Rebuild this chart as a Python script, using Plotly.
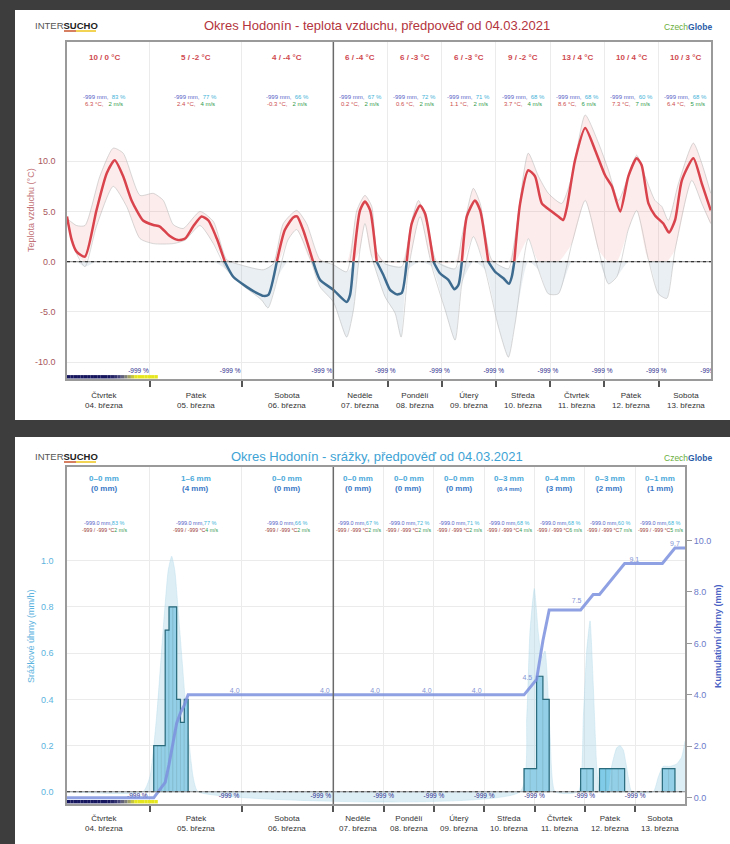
import numpy as np
import plotly.graph_objects as go

# ---------------- data ----------------
day_names = ["Čtvrtek", "Pátek", "Sobota", "Neděle", "Pondělí", "Úterý", "Středa", "Čtvrtek", "Pátek", "Sobota"]
day_dates = ["04. března", "05. března", "06. března", "07. března", "08. března",
             "09. března", "10. března", "11. března", "12. března", "13. března"]
t_max = [10, 5, 4, 6, 6, 6, 9, 13, 10, 10]
t_min = [0, -2, -4, -4, -3, -3, -2, 4, 4, 3]
t_mean = ["6.3", "2.4", "-0.3", "0.2", "0.6", "1.1", "3.7", "8.6", "7.3", "6.4"]
wind = [2, 4, 2, 2, 2, 2, 4, 6, 7, 5]
humidity = [83, 77, 66, 67, 72, 71, 68, 68, 60, 68]
prec_range = ["0–0", "1–6", "0–0", "0–0", "0–0", "0–0", "0–3", "0–4", "0–3", "0–1"]
prec_total = ["0", "4", "0", "0", "0", "0", "0.4", "3", "2", "1"]

# temperature (hours since 04.03 00:00)
temp_h = [2.3, 3.5, 4.8, 7.0, 10.0, 12.7, 14.8, 17.0, 19.2, 22.2, 24.9, 26.6, 29.2, 31.4, 33.2, 35.3,
          37.5, 39.3, 41.5, 43.6, 45.8, 49.3, 51.9, 53.7, 55.0, 57.2, 59.3, 61.5, 62.5, 64.1, 66.7,
          68.5, 72.0, 77.9, 79.4, 80.9, 83.8, 86.0, 88.3, 91.2, 94.1, 97.1, 100.1, 102.3, 104.5,
          106.7, 110.4, 112.6, 116.3, 119.2, 122.9, 125.6, 127.4, 128.9, 131.1, 134.7, 137.0, 140.6,
          143.6, 147.3, 149.8, 151.0, 152.1, 154.7, 158.3, 161.3, 164.3, 168.7, 171.6, 173.8, 175.4,
          179.0, 183.5, 187.9, 192.3, 195.3, 199.0, 202.6, 206.3, 208.5, 211.5, 214.4, 218.1, 220.6,
          223.3, 226.3, 231.4, 235.1, 239.1]
temp_c = [4.5, 2.2, 1.0, 0.5, 5.1, 8.8, 10.1, 8.5, 6.1, 4.1, 3.65, 3.5, 2.55, 2.15, 2.3, 3.5,
          4.5, 4.1, 2.3, 0.0, -1.5, -2.5, -3.1, -3.4, -3.3, 0.0, 3.15, 4.4, 4.5, 3.15, 0.0,
          -1.8, -2.8, -4.0, -3.3, 0.0, 5.1, 6.0, 5.1, 0.0, -1.3, -2.8, -3.25, -3.1, 0.0,
          3.8, 5.6, 4.8, 0.0, -1.15, -1.8, -2.75, -2.3, 0.0, 4.5, 6.1, 5.1, 0.0,
          -1.0, -1.65, -2.2, -1.5, 0.0, 5.8, 9.1, 8.5, 5.8, 5.0, 4.5, 4.15, 5.4,
          10.1, 13.3, 11.1, 8.6, 7.5, 5.0, 8.5, 10.3, 9.6, 5.8, 4.6, 3.8, 2.9,
          4.15, 8.1, 10.3, 7.8, 5.1]
band_up_h = [2.3, 4.8, 7.0, 10.9, 14.4, 17.0, 21.4, 24.9, 27.5, 30.1, 32.7, 37.1, 40.6, 44.1, 47.6,
             53.7, 56.3, 58.9, 62.4, 65.0, 68.5, 72.0, 77.9, 82.4, 86.0, 89.0, 91.2, 94.9, 102.3,
             106.7, 109.7, 113.4, 117.8, 125.9, 128.9, 134.0, 137.0, 142.1, 149.5, 152.5, 158.3,
             162.8, 167.2, 173.1, 177.6, 183.5, 189.4, 193.8, 198.2, 202.6, 206.3, 210.0, 214.4,
             217.4, 220.3, 224.8, 231.4, 235.1, 239.1]
band_up = [4.3, 3.6, 3.6, 8.5, 11.3, 10.8, 6.6, 6.8, 6.1, 3.7, 3.3, 5.0, 4.0, 0.2, -0.3,
           -0.8, -0.2, 3.8, 5.1, 3.8, 0.2, -0.3, -1.0, 5.1, 6.6, 5.5, 1.0, -0.2, -0.5,
           4.1, 6.1, 3.8, 0.0, -0.7, 2.5, 7.3, 5.8, 0.2, -0.7, 2.5, 10.8,
           8.5, 6.8, 5.8, 8.5, 14.6, 11.8, 9.1, 6.1, 8.5, 10.6, 8.5, 6.1,
           5.5, 4.1, 7.8, 11.8, 9.8, 6.8]
band_lo_h = [2.3, 4.8, 7.0, 10.0, 14.4, 17.9, 21.4, 24.9, 30.1, 33.2, 37.1, 40.6, 44.1, 47.6, 53.2,
             54.9, 57.5, 60.1, 62.4, 66.2, 68.5, 72.0, 77.9, 80.9, 83.8, 86.0, 89.0, 94.9, 99.3,
             102.0, 105.2, 110.4, 115.6, 121.5, 125.9, 128.9, 134.0, 139.2, 145.1, 149.5, 152.5,
             158.3, 162.8, 167.2, 171.6, 177.6, 183.5, 189.4, 193.8, 197.5, 202.6, 206.3, 211.5,
             215.9, 219.6, 223.3, 230.7, 235.1, 239.1]
band_lo = [4.1, 0.8, -0.5, 3.5, 7.5, 5.5, 2.3, 1.8, 1.8, 2.15, 3.6, 1.8, -0.8, -2.15, -3.8,
           -4.6, -1.5, 2.15, 3.2, 0.0, -2.5, -4.0, -7.5, -4.8, 1.2, 3.8, 0.5, -3.5, -5.1,
           -7.5, -0.8, 4.5, -0.5, -4.8, -7.8, -2.2, 2.5, -0.8, -6.5, -9.5, -6.1,
           2.3, -0.8, -3.2, -3.2, 1.8, 6.1, 1.2, -2.2, -1.5, 3.2, 5.1, 0.2,
           -3.2, -3.65, 1.2, 8.1, 5.8, 3.8]

# precipitation blocks: start hour, duration (h), rate (mm/h)
prec_start = [25, 26, 27, 28, 29, 30, 31, 32, 33, 163, 166, 169, 172, 190, 193, 199, 202, 205, 208, 229, 232]
prec_dur = [1, 1, 1, 1, 1, 1, 1, 1, 1, 3, 3, 3, 3, 3, 3, 3, 3, 3, 3, 3, 3]
prec_rate = [0.2, 0.2, 0.2, 0.7, 0.8, 0.8, 0.4, 0.3, 0.4, 0.1, 0.1, 0.5, 0.4, 0.1, 0.1, 0.1, 0.1, 0.1, 0.1, 0.1, 0.1]

# ensemble spread of precipitation intensity
ens_h = [2.3, 22.2, 24.0, 25.75, 27.5, 28.8, 29.7, 30.5, 31.85, 33.6, 35.3, 36.6,
         161.1, 164.3, 165.8, 167.9, 169.8, 171.4, 173.0, 175.4, 177.8,
         188.9, 191.3, 192.9, 194.5, 196.0, 197.7, 199.2,
         203.2, 204.8, 207.2, 208.8, 210.4, 212.7, 214.4,
         224.7, 227.1, 229.4, 232.6, 235.8, 238.2, 239.8]
ens_v = [0, 0, 0.065, 0.325, 0.71, 0.96, 1.02, 0.96, 0.69, 0.325, 0.065, 0,
         0, 0.325, 0.69, 0.88, 0.69, 0.58, 0.61, 0.25, 0,
         0, 0.325, 0.61, 0.74, 0.47, 0.11, 0,
         0, 0.11, 0.19, 0.2, 0.18, 0.065, 0,
         0, 0.065, 0.11, 0.11, 0.12, 0.15, 0.22]

cum_label_h = [46.2, 69.8, 91.9, 116.6, 140.4, 164.6, 188.1, 215.6, 235.0]
cum_label_v = [4.0, 4.0, 4.0, 4.0, 4.0, 4.5, 7.5, 9.1, 9.7]

scale_levels = [0] * 13 + [0.08, 0.18, 0.3, 0.42, 0.55, 0.7, 0.85] + [1] * 7

# ---------------- helpers ----------------
W, H = 730, 844
K1 = 54.2 / 91.7
K2 = 50.3 / 91.7
FONT = "Liberation Sans, Arial, sans-serif"


def pos(h, k):
    h = np.asarray(h, dtype=float)
    return np.where(h <= 72, h, 72 + (h - 72) * k)


def fx(x):
    return x / W


def fy(y):
    return 1 - y / H


boundaries = [24 * i for i in range(1, 10)]
noons = [12 + 24 * i for i in range(10)]

fig = go.Figure()
annotations = []
shapes = []

# white panels
shapes.append(dict(type="rect", xref="paper", yref="paper", x0=fx(15), x1=1, y0=fy(420), y1=fy(10),
                   fillcolor="white", line_width=0, layer="below"))
shapes.append(dict(type="rect", xref="paper", yref="paper", x0=fx(15), x1=1, y0=0, y1=fy(437),
                   fillcolor="white", line_width=0, layer="below"))

# ================= chart 1 : temperature =================
up = np.array(band_up)
lo = np.array(band_lo)
bx = np.concatenate([pos(band_up_h, K1), pos(band_lo_h, K1)[::-1]])
pink_y = np.concatenate([np.clip(up, 0, None), np.clip(lo, 0, None)[::-1]])
blue_y = np.concatenate([np.clip(up, None, 0), np.clip(lo, None, 0)[::-1]])
fig.add_trace(go.Scatter(x=bx, y=pink_y, fill="toself", fillcolor="rgba(235,120,120,0.14)", mode="lines",
                         line=dict(width=0, shape="spline", smoothing=0.6), hoverinfo="skip", xaxis="x", yaxis="y"))
fig.add_trace(go.Scatter(x=bx, y=blue_y, fill="toself", fillcolor="rgba(140,165,190,0.18)", mode="lines",
                         line=dict(width=0, shape="spline", smoothing=0.6), hoverinfo="skip", xaxis="x", yaxis="y"))
for hh, vv in ((band_up_h, band_up), (band_lo_h, band_lo)):
    fig.add_trace(go.Scatter(x=pos(hh, K1), y=vv, mode="lines", hoverinfo="skip",
                             line=dict(color="rgba(170,170,170,0.45)", width=1, shape="spline", smoothing=0.6),
                             xaxis="x", yaxis="y"))
red_y = [v if v >= 0 else None for v in temp_c]
blue_line_y = [v if v <= 0 else None for v in temp_c]
fig.add_trace(go.Scatter(x=pos(temp_h, K1), y=blue_line_y, mode="lines",
                         line=dict(color="#3d6b8f", width=2.5, shape="spline", smoothing=0.6), xaxis="x", yaxis="y"))
fig.add_trace(go.Scatter(x=pos(temp_h, K1), y=red_y, mode="lines",
                         line=dict(color="#d8434c", width=2.5, shape="spline", smoothing=0.6), xaxis="x", yaxis="y"))

# -999 % labels chart 1
pct1_h = [24 * (i + 1) - 3 if i < 3 else 24 * (i + 1) - 1 for i in range(10)]
fig.add_trace(go.Scatter(x=pos(pct1_h, K1), y=[-10.88] * 10, mode="text", text=["-999 %"] * 10,
                         textfont=dict(size=6.5, color="#2b2b8c", family=FONT), cliponaxis=True,
                         xaxis="x", yaxis="y"))

# colour scale squares
sq_x = 2.3 + 0.88 * (np.arange(len(scale_levels)) + 0.5)
cscale = [[0, "#16165e"], [0.3, "#45457a"], [0.6, "#8a8a7a"], [1, "#e6e61e"]]
fig.add_trace(go.Scatter(x=sq_x, y=[-11.45] * len(scale_levels), mode="markers",
                         marker=dict(symbol="square", size=3.4, color=scale_levels, colorscale=cscale,
                                     cmin=0, cmax=1, line=dict(width=0)),
                         cliponaxis=False, xaxis="x", yaxis="y"))

# ================= chart 2 : precipitation =================
fig.add_trace(go.Scatter(x=pos(ens_h, K2), y=ens_v, mode="lines", fill="tozeroy",
                         fillcolor="rgba(175,215,232,0.42)",
                         line=dict(width=0.6, color="rgba(175,215,232,0.6)", shape="spline", smoothing=0.5),
                         hoverinfo="skip", xaxis="x2", yaxis="y2"))
ps = np.array(prec_start, float)
pe = ps + np.array(prec_dur, float)
fig.add_trace(go.Bar(x=(pos(ps, K2) + pos(pe, K2)) / 2, y=prec_rate, width=pos(pe, K2) - pos(ps, K2),
                     marker=dict(color="#80cce8", line=dict(color="rgba(40,110,130,0.5)", width=0.6)),
                     xaxis="x2", yaxis="y2"))
# step outline
ox, oy = [], []
prev_end = None
for s, e, r in zip(ps, pe, prec_rate):
    if prev_end is not None and s != prev_end:
        ox += [prev_end, None]
        oy += [0, None]
    if prev_end is None or s != prev_end:
        ox.append(s)
        oy.append(0)
    ox += [s, e]
    oy += [r, r]
    prev_end = e
ox.append(prev_end)
oy.append(0)
ox_pos = [float(pos(v, K2)) if v is not None else None for v in ox]
fig.add_trace(go.Scatter(x=ox_pos, y=oy, mode="lines", line=dict(color="#2a6b7d", width=1.2),
                         hoverinfo="skip", xaxis="x2", yaxis="y2"))

# cumulative line
amounts = np.array(prec_rate) * np.array(prec_dur)
cum = np.cumsum(amounts)
cx, cy = [2.3], [0.0]
for s, e, c, a in zip(ps, pe, cum, amounts):
    if cx[-1] != s:
        cx.append(s)
        cy.append(c - a)
    cx.append(e)
    cy.append(c)
cx.append(239.8)
cy.append(cum[-1])
fig.add_trace(go.Scatter(x=pos(cx, K2), y=cy, mode="lines",
                         line=dict(color="rgba(125,145,222,0.85)", width=3),
                         xaxis="x2", yaxis="y3"))
fig.add_trace(go.Scatter(x=pos(cum_label_h, K2), y=cum_label_v, mode="text",
                         text=[f"{v:.1f}" for v in cum_label_v], textposition="top center",
                         textfont=dict(size=7, color="#8595d5", family=FONT), cliponaxis=False,
                         xaxis="x2", yaxis="y3"))

pct2_h = [24 * (i + 1) - 3.3 if i < 3 else 24 * (i + 1) for i in range(10)]
fig.add_trace(go.Scatter(x=pos(pct2_h, K2), y=[-0.02] * 10, mode="text", text=["-999 %"] * 10,
                         textfont=dict(size=6.5, color="#2b2b8c", family=FONT), cliponaxis=True,
                         xaxis="x2", yaxis="y2"))
fig.add_trace(go.Scatter(x=sq_x, y=[-0.043] * len(scale_levels), mode="markers",
                         marker=dict(symbol="square", size=3.4, color=scale_levels, colorscale=cscale,
                                     cmin=0, cmax=1, line=dict(width=0)),
                         cliponaxis=False, xaxis="x2", yaxis="y2"))

# ---------------- shapes: zero lines & divider ----------------
for xr, yr in (("x", "y"), ("x2", "y2")):
    shapes.append(dict(type="line", xref=xr + " domain", yref=yr, x0=0, x1=1, y0=0, y1=0,
                       line=dict(color="#8a8a8a", width=1)))
    shapes.append(dict(type="line", xref=xr + " domain", yref=yr, x0=0, x1=1, y0=0, y1=0,
                       line=dict(color="#333", width=1.2, dash="dot")))
    shapes.append(dict(type="line", xref=xr, yref=yr + " domain", x0=72, x1=72, y0=0, y1=1,
                       line=dict(color="#6a6a6a", width=1.5)))

# ---------------- annotations ----------------
def add_ann(x, y, text, size, color, xref="paper", yref="paper", angle=0, xanchor="center"):
    annotations.append(dict(x=x, y=y, xref=xref, yref=yref, text=text, showarrow=False,
                            font=dict(size=size, color=color, family=FONT), textangle=angle,
                            xanchor=xanchor, yanchor="middle"))


for top, title, tcol in ((0, "Okres Hodonín - teplota vzduchu, předpověď od 04.03.2021", "#b3343d"),
                         (431, "Okres Hodonín - srážky, předpověď od 04.03.2021", "#3ea3d5")):
    add_ann(fx(377), fy(25 + top), title, 13, tcol)
    add_ann(fx(66), fy(25 + top), '<span style="color:#555">INTER</span><b>SUCHO</b>', 9.5, "#222")
    shapes.append(dict(type="line", xref="paper", yref="paper", x0=fx(64), x1=fx(76), y0=fy(31 + top),
                       y1=fy(31 + top), line=dict(color="#c8552c", width=1.5)))
    shapes.append(dict(type="line", xref="paper", yref="paper", x0=fx(76), x1=fx(96), y0=fy(31 + top),
                       y1=fy(31 + top), line=dict(color="#efc41a", width=1.5)))
    add_ann(fx(688), fy(27 + top),
            '<span style="color:#6aae3c">Czech</span><b><span style="color:#2b5ca8">Globe</span></b>',
            8.5, "#2b5ca8")

NB = "\u00a0"
for i in range(10):
    x1 = float(pos(noons[i], K1))
    x2 = float(pos(noons[i], K2))
    # chart 1
    add_ann(x1, fy(58), f"<b>{t_max[i]} / {t_min[i]} °C</b>", 8, "#cf4a50", xref="x")
    add_ann(x1, fy(97), f'<span style="color:#5562c6">-999 mm,</span>{NB*2}'
                        f'<span style="color:#3fb3d8">{humidity[i]} %</span>', 6, "#5562c6", xref="x")
    add_ann(x1, fy(104), f'<span style="color:#cc4b4b">{t_mean[i]} °C,</span>{NB*3}'
                         f'<span style="color:#2f9a4c">{wind[i]} m/s</span>', 6, "#cc4b4b", xref="x")
    add_ann(x1, fy(400), f"{day_names[i]}<br>{day_dates[i]}", 8, "#333", xref="x")
    # chart 2
    add_ann(x2, fy(478), f"<b>{prec_range[i]} mm</b>", 8, "#4aa9da", xref="x2")
    tot_size = 6 if "." in prec_total[i] else 8
    add_ann(x2, fy(488.5), f"<b>({prec_total[i]} mm)</b>", tot_size, "#3b78c6", xref="x2")
    add_ann(x2, fy(523), f'<span style="color:#5562c6">-999.0 mm,</span>'
                         f'<span style="color:#3fb3d8">{humidity[i]} %</span>', 5.5, "#5562c6", xref="x2")
    add_ann(x2, fy(530), f'<span style="color:#9a3a3a">-999 / -999 °C</span>'
                         f'<span style="color:#2f9a4c">{wind[i]} m/s</span>', 5.2, "#9a3a3a", xref="x2")
    add_ann(x2, fy(823), f"{day_names[i]}<br>{day_dates[i]}", 8, "#333", xref="x2")

add_ann(fx(31), fy(210), "Teplota vzduchu (°C)", 9, "#c27276", angle=-90)
add_ann(fx(31), fy(636), "Srážkové úhrny (mm/h)", 9, "#5cb3de", angle=-90)
add_ann(fx(718), fy(636), "<b>Kumulativní úhrny (mm)</b>", 9, "#4a62c4", angle=-90)

# ---------------- axes ----------------
xcommon = dict(showticklabels=False, ticks="outside", ticklen=6, tickwidth=1.5, tickcolor="#555",
               showgrid=True, gridcolor="#ebebeb", gridwidth=1, zeroline=False,
               showline=True, linecolor="#9a9a9a", linewidth=1.5, mirror=True)
fig.update_layout(
    width=W, height=844, margin=dict(l=0, r=0, t=0, b=0),
    paper_bgcolor="#3d3d3d", plot_bgcolor="white", showlegend=False,
    font=dict(family=FONT),
    xaxis=dict(domain=[fx(67), fx(711)], range=[2.3, float(pos(239.2, K1))], anchor="y",
               tickvals=pos(boundaries, K1), **xcommon),
    yaxis=dict(domain=[fy(379), fy(42)], range=[-11.67, 21.86], anchor="x",
               tickvals=[-10, -5, 0, 5, 10], ticktext=["-10.0", "-5.0", "0.0", "5.0", "10.0"],
               tickfont=dict(size=9, color="#a8585d"), ticks="", ticklabelstandoff=8,
               showgrid=True, gridcolor="#ebebeb", zeroline=False,
               showline=True, linecolor="#9a9a9a", linewidth=1.5, mirror=True),
    xaxis2=dict(domain=[fx(67), fx(685)], range=[2.3, float(pos(239.8, K2))], anchor="y2",
                tickvals=pos(boundaries, K2), **xcommon),
    yaxis2=dict(domain=[fy(804), fy(467)], range=[-0.053, 1.406], anchor="x2",
                tickvals=[0, 0.2, 0.4, 0.6, 0.8, 1.0], ticktext=["0.0", "0.2", "0.4", "0.6", "0.8", "1.0"],
                tickfont=dict(size=9, color="#5cb3de"), ticks="", ticklabelstandoff=10,
                showgrid=True, gridcolor="#ebebeb", zeroline=False,
                showline=True, linecolor="#9a9a9a", linewidth=1.5, mirror=True),
    yaxis3=dict(overlaying="y2", side="right", anchor="x2", range=[-0.24, 12.85],
                tickvals=[0, 2, 4, 6, 8, 10], ticktext=["0.0", "2.0", "4.0", "6.0", "8.0", "10.0"],
                tickfont=dict(size=9, color="#6c7bc9"), ticks="outside", ticklen=6, tickcolor="#999",
                showgrid=False, zeroline=False, showline=False),
    shapes=shapes, annotations=annotations,
)

fig.write_html("out.html", config={"displayModeBar": False},
               post_script="document.body.style.margin='0';document.body.style.overflow='hidden';")
